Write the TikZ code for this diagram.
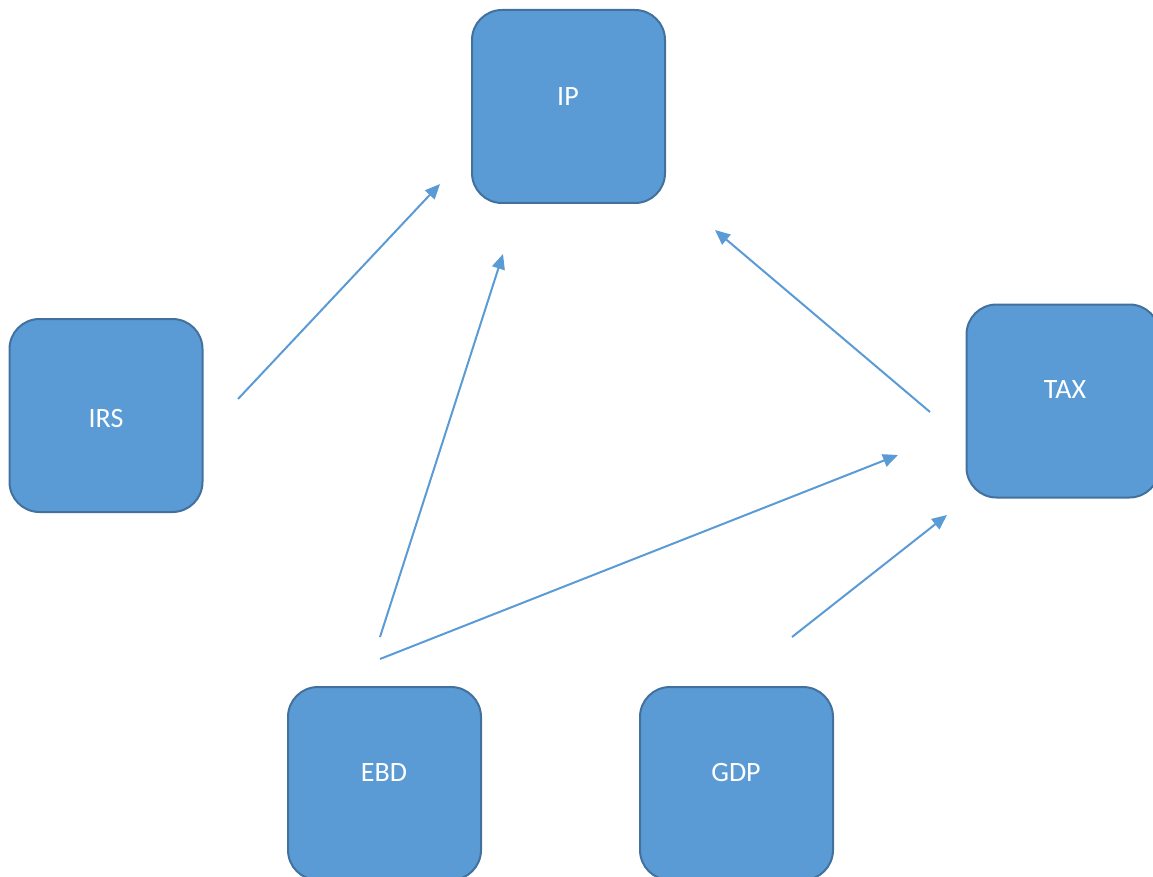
\documentclass[tikz,border=0pt]{standalone}
\usepackage{fontspec}
\setmainfont{Carlito}
\usetikzlibrary{arrows.meta}
\definecolor{boxfill}{HTML}{5B9BD5}
\definecolor{boxline}{HTML}{41719C}
\begin{document}
\begin{tikzpicture}[x=1pt,y=-1pt,
  box/.style={draw=boxline,fill=boxfill,line width=2pt,rounded corners=30pt,minimum width=193pt,minimum height=193pt,inner sep=0pt},
  lbl/.style={text=white,font=\fontsize{28}{32}\selectfont,inner sep=0pt},
  arr/.style={draw=boxfill,line width=2pt,-{Triangle[length=15pt,width=13pt]}}]
\useasboundingbox (0,0) rectangle (1153,877);
\clip (0,0) rectangle (1153,877);
\node[box] (ip) at (568.5,106.5) {};
\node[box] (irs) at (106,415.5) {};
\node[box] (tax) at (1063,401) {};
\node[box] (ebd) at (384.5,783.5) {};
\node[box] (gdp) at (736.5,783.5) {};
\node[lbl] (ipt) at (568,97) {IP};
\node[lbl] (irst) at (106,419) {IRS};
\node[lbl] (taxt) at (1065,390) {TAX};
\node[lbl] (ebdt) at (384,773) {EBD};
\node[lbl] (gdpt) at (736,773) {GDP};
\coordinate (a1s) at (238,399); \coordinate (a1e) at (440,184);
\coordinate (a2s) at (380,637); \coordinate (a2e) at (503,254);
\coordinate (a3s) at (930,412); \coordinate (a3e) at (715,230);
\coordinate (a4s) at (380,659); \coordinate (a4e) at (898,455);
\coordinate (a5s) at (792,637); \coordinate (a5e) at (947,515);
\draw[arr] (a1s) -- (a1e);
\draw[arr] (a2s) -- (a2e);
\draw[arr] (a3s) -- (a3e);
\draw[arr] (a4s) -- (a4e);
\draw[arr] (a5s) -- (a5e);
\end{tikzpicture}
\end{document}
